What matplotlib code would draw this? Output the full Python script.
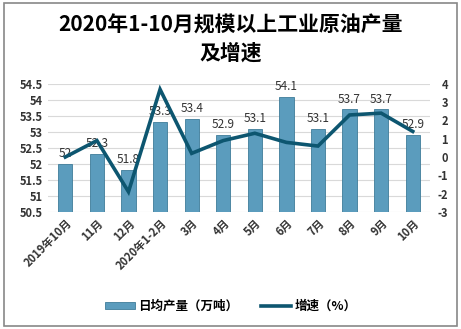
import matplotlib
matplotlib.use("Agg")
from matplotlib import pyplot as plt
from matplotlib.patches import Rectangle
import numpy as np

plt.rcParams['font.family'] = ['Noto Sans CJK SC', 'DejaVu Sans']
plt.rcParams['axes.unicode_minus'] = False

categories = ['2019年10月', '11月', '12月', '2020年1-2月', '3月', '4月',
              '5月', '6月', '7月', '8月', '9月', '10月']
daily_output = [52.0, 52.3, 51.8, 53.3, 53.4, 52.9, 53.1, 54.1, 53.1, 53.7, 53.7, 52.9]
growth = [0.0, 0.9, -1.9, 3.7, 0.2, 0.9, 1.3, 0.8, 0.6, 2.3, 2.4, 1.4]
left_ticks = [50.5, 51, 51.5, 52, 52.5, 53, 53.5, 54, 54.5]
right_ticks = [-3, -2, -1, 0, 1, 2, 3, 4]

bar_color = '#5b9cbd'
line_color = '#0d5670'
text_color = '#333333'

fig = plt.figure(figsize=(4.61, 3.29), dpi=100)
fig.patches.append(Rectangle((0.008, 0.008), 0.984, 0.984, transform=fig.transFigure,
                             fill=False, edgecolor='#888888', linewidth=1.2))

ax1 = fig.add_axes([0.104, 0.356, 0.829, 0.389])
x = np.arange(len(categories))
ax1.bar(x, np.array(daily_output) - 50.5, bottom=50.5, width=0.45,
        color=bar_color, edgecolor='#3f7c9a', linewidth=0.6, zorder=2,
        label='日均产量（万吨）')
ax1.set_ylim(50.5, 54.5)
ax1.set_xlim(-0.55, len(categories) - 0.45)
ax1.set_yticks(left_ticks)
ax1.set_yticklabels([f'{t:g}' for t in left_ticks])
ax1.grid(axis='y', color='#d9d9d9', linewidth=0.8, zorder=0)
ax1.set_axisbelow(True)
for s in ax1.spines.values():
    s.set_visible(False)
ax1.tick_params(axis='both', length=0, labelsize=8, labelcolor=text_color)
ax1.set_xticks(x)
ax1.set_xticklabels(categories, rotation=45, ha='right', va='top',
                    rotation_mode='anchor', fontweight='bold')
for lab in ax1.get_yticklabels():
    lab.set_fontweight('bold')

for xi, v in zip(x, daily_output):
    ax1.text(xi, v + 0.12, f'{v:g}', ha='center', va='bottom',
             fontsize=8.5, color=text_color, zorder=5)

ax2 = ax1.twinx()
ax2.plot(x, growth, color=line_color, linewidth=2.6, zorder=4,
         solid_joinstyle='miter', label='增速（%）')
ax2.set_ylim(-3, 4)
ax2.set_yticks(right_ticks)
for s in ax2.spines.values():
    s.set_visible(False)
ax2.tick_params(axis='y', length=0, labelsize=8, labelcolor=text_color, pad=13)
for lab in ax2.get_yticklabels():
    lab.set_fontweight('bold')
    lab.set_horizontalalignment('right')

fig.text(0.5, 0.925, '2020年1-10月规模以上工业原油产量', ha='center', va='center',
         fontsize=15, fontweight='bold', color='black')
fig.text(0.5, 0.838, '及增速', ha='center', va='center',
         fontsize=15, fontweight='bold', color='black')

h1, l1 = ax1.get_legend_handles_labels()
h2, l2 = ax2.get_legend_handles_labels()
fig.legend(h1 + h2, l1 + l2, loc='center', bbox_to_anchor=(0.5, 0.068), ncol=2,
           frameon=False, handlelength=2.4, handleheight=0.5, handletextpad=0.3,
           columnspacing=1.8, prop={'weight': 'bold', 'size': 9})

fig.savefig('out.png', dpi=100)
